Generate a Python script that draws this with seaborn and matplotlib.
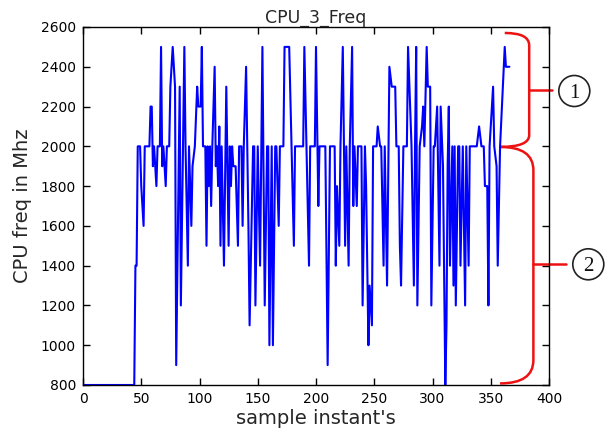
import numpy as np
import pandas as pd
import matplotlib
matplotlib.use("Agg")
import matplotlib.pyplot as plt
import seaborn as sns
from matplotlib.path import Path
from matplotlib.patches import PathPatch, Ellipse

# ---- data ----
sample_a = [0, 44, 45, 46, 47, 49, 50, 52, 53, 57, 58, 59, 60, 61, 62, 63, 64, 66, 67, 68,
            69, 70, 71, 72, 74, 75, 77, 78, 79, 80, 83, 84, 87, 88, 90, 91, 93, 94, 96, 98,
            99, 101, 102, 103, 105, 106, 107, 108, 109, 110, 111, 113, 114, 115, 116, 117,
            118, 119, 121, 123, 125, 126, 127, 128, 129, 131, 133, 134]
freq_a = [800, 800, 1400, 1400, 2000, 2000, 1800, 1600, 2000, 2000, 2200, 2200, 1900, 2000,
          1900, 1800, 2000, 2000, 2500, 1900, 2000, 1900, 1800, 2000, 2000, 2300, 2500, 2400,
          2300, 900, 2300, 1200, 2500, 2000, 1400, 2000, 1600, 1900, 2000, 2300, 2200, 2200,
          2500, 2000, 2000, 1500, 2000, 1800, 2000, 1700, 2000, 2400, 1900, 2000, 1800, 2100,
          1500, 2000, 1400, 2300, 1500, 2000, 1800, 2000, 1900, 1900, 1500, 2000]

sample_b = [136, 137, 138, 140, 142, 143, 146, 147, 148, 150, 152, 154, 156, 158, 159, 160,
            162, 163, 165, 166, 168, 169, 172, 173, 177, 179, 181, 182, 189, 190, 194, 195,
            199, 200, 202, 203, 208, 210, 212, 216, 217, 218, 220, 221, 223, 225, 226, 228,
            229, 231, 232, 233, 235, 236, 239, 240, 242, 243, 245, 246]
freq_b = [2000, 1600, 2000, 2400, 1600, 1100, 2000, 2000, 1200, 2000, 1400, 2500, 1200, 2000,
          2000, 1000, 2000, 1000, 2000, 2000, 1600, 2000, 2000, 2500, 2500, 2000, 1500, 2000,
          2000, 2500, 1400, 2000, 2000, 2500, 1700, 2000, 2000, 900, 2000, 2000, 1400, 1800,
          1500, 2000, 2500, 1500, 2000, 1400, 2000, 2500, 1700, 2000, 1700, 2000, 2000, 1200,
          2000, 1800, 1000, 1300]

sample_c = [248, 249, 252, 253, 255, 256, 258, 259, 261, 263, 265, 268, 269, 271, 272, 273,
            275, 278, 279, 282, 284, 285, 286, 287, 289, 291, 292, 293, 295, 296, 298, 299,
            301, 302, 304, 306, 307, 309, 311, 312, 313, 314, 315, 317, 318, 319, 320, 322,
            323, 324, 326, 328, 329, 331, 332, 338, 340, 342, 344, 345, 347, 348, 349, 352,
            353, 355, 356, 358, 362, 363, 366]
freq_c = [1100, 2000, 2000, 2100, 2000, 2000, 1400, 2000, 1300, 2400, 2300, 2300, 2000, 2000,
          1500, 1300, 2000, 2000, 2500, 2000, 1300, 2000, 2500, 1200, 2000, 2100, 2200, 2000,
          2500, 2300, 2300, 1200, 2000, 2000, 2200, 1400, 2200, 1900, 800, 1100, 1900, 2200,
          1400, 2000, 1300, 2000, 1200, 2000, 2000, 1400, 2000, 1200, 2000, 1400, 2000, 2000,
          2100, 2000, 2000, 1800, 1800, 1200, 2000, 2300, 2000, 1900, 1400, 2000, 2500, 2400,
          2400]

xticks = [0, 50, 100, 150, 200, 250, 300, 350, 400]
yticks = [800, 1000, 1200, 1400, 1600, 1800, 2000, 2200, 2400, 2600]
title = "CPU_3_Freq"
xlabel = "sample instant's"
ylabel = "CPU freq in Mhz"
region_labels = ["1", "2"]

df = pd.DataFrame({"sample": sample_a + sample_b + sample_c,
                   "freq": freq_a + freq_b + freq_c})

sns.set_style("ticks")
plt.rcParams["font.family"] = ["DejaVu Sans"]

W, H = 613, 432
fig = plt.figure(figsize=(W / 100, H / 100), dpi=100)
ax = fig.add_axes([83 / W, 1 - 385 / H, (549 - 83) / W, (385 - 27) / H])

sns.lineplot(data=df, x="sample", y="freq", ax=ax, color="#0000ff", lw=1.5,
             estimator=None, sort=False)

ax.set_xlim(0, 400)
ax.set_ylim(800, 2600)
ax.set_xticks(xticks)
ax.set_yticks(yticks)
ax.tick_params(direction="in", top=True, right=True, length=5, width=1,
               labelsize=10, colors="black", pad=5)
for s in ax.spines.values():
    s.set_color("black")
    s.set_linewidth(1)
ax.set_xlabel(xlabel, fontsize=14, labelpad=2)
ax.set_ylabel(ylabel, fontsize=14, labelpad=6)
ax.set_title(title, fontsize=12.5, pad=3)

# braces (annotation decoration)
red = "#ee1111"
b1 = Path([(362, 2570), (383, 2570), (383, 2508), (383, 2056), (383, 1997), (358, 1997)],
          [Path.MOVETO, Path.CURVE3, Path.CURVE3, Path.LINETO, Path.CURVE3, Path.CURVE3])
b2 = Path([(358, 1997), (386.6, 1997), (386.6, 1880), (386.6, 925), (386.6, 808), (358, 808)],
          [Path.MOVETO, Path.CURVE3, Path.CURVE3, Path.LINETO, Path.CURVE3, Path.CURVE3])
for p in (b1, b2):
    ax.add_patch(PathPatch(p, fc="none", ec=red, lw=1.8, clip_on=False))
ax.plot([383, 403], [2282, 2282], color=red, lw=1.8, clip_on=False)
ax.plot([386.6, 415], [1406, 1406], color=red, lw=1.8, clip_on=False)

for (cx, cy), lab in zip([(574.3, 91), (588.3, 264.3)], region_labels):
    fx, fy = cx / W, 1 - cy / H
    fig.add_artist(Ellipse((fx, fy), 31 / W, 31 / H, transform=fig.transFigure,
                           fc="white", ec="#222222", lw=1.2))
    fig.text(fx, fy, lab, ha="center", va="center_baseline", fontsize=15,
             family=["Liberation Serif", "DejaVu Serif"], color="#111111")

fig.savefig("out.png", dpi=100)
